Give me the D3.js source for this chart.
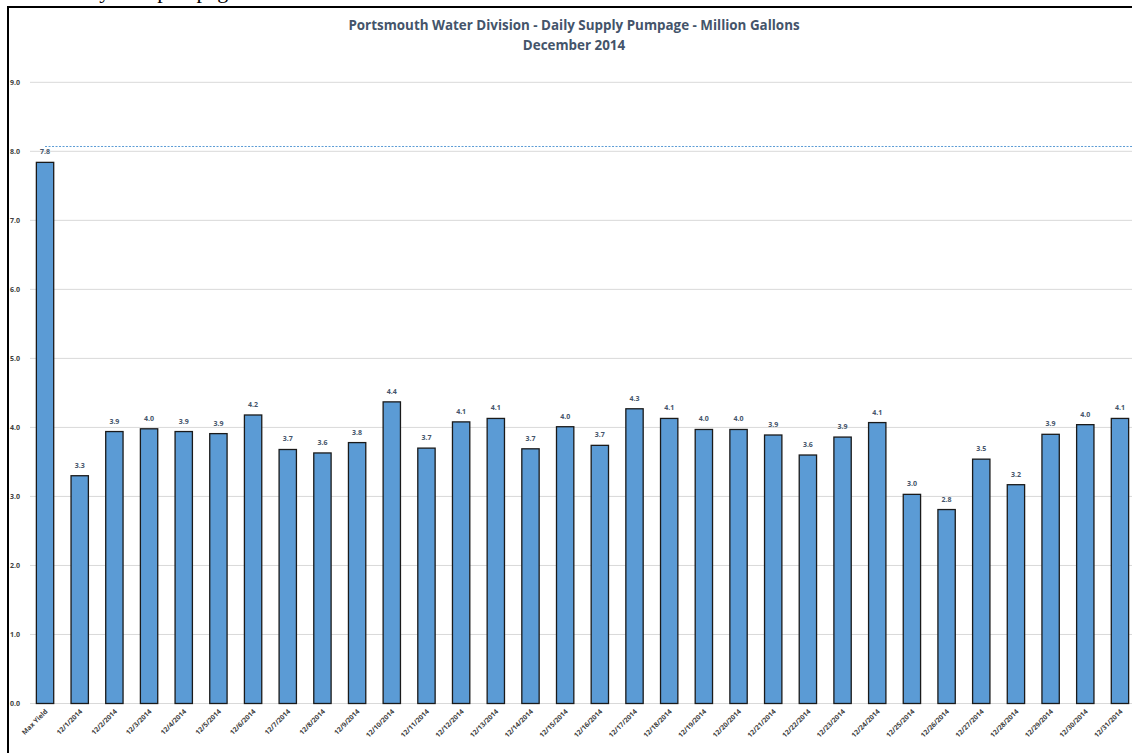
<!DOCTYPE html>
<html>
<head>
<meta charset="utf-8">
<script src="https://cdn.jsdelivr.net/npm/d3@7"></script>
<style>
  body { margin: 0; background: #fff; }
  svg { display: block; }
</style>
</head>
<body>
<div id="chart"></div>
<script>
const categories = ["Max Yield",
    "12/1/2014", "12/2/2014", "12/3/2014", "12/4/2014", "12/5/2014", "12/6/2014", "12/7/2014",
    "12/8/2014", "12/9/2014", "12/10/2014", "12/11/2014", "12/12/2014", "12/13/2014", "12/14/2014",
    "12/15/2014", "12/16/2014", "12/17/2014", "12/18/2014", "12/19/2014", "12/20/2014", "12/21/2014",
    "12/22/2014", "12/23/2014", "12/24/2014", "12/25/2014", "12/26/2014", "12/27/2014", "12/28/2014",
    "12/29/2014", "12/30/2014", "12/31/2014"];
const pumpage = [7.84,
    3.30, 3.94, 3.98, 3.94, 3.91, 4.18, 3.68,
    3.63, 3.78, 4.37, 3.70, 4.08, 4.13, 3.69,
    4.01, 3.74, 4.27, 4.13, 3.97, 3.97, 3.89,
    3.60, 3.86, 4.07, 3.03, 2.81, 3.54, 3.17,
    3.90, 4.04, 4.13];
const yTicks = [0, 1, 2, 3, 4, 5, 6, 7, 8, 9];
const limitLine = 8.07;

const width = 1132;
const height = 753;

const svg = d3.select('#chart')
    .append('svg')
    .attr('width', width)
    .attr('height', height);

// caption of the page, cut off above the frame (as in the scan)
svg.append('text')
    .attr('x', 238)
    .attr('y', -2)
    .attr('text-anchor', 'end')
    .attr('font-family', 'Liberation Serif, serif')
    .attr('font-size', 22)
    .attr('fill', '#000')
    .text('Portsmouth water system pumpage');

// frame
svg.append('line').attr('x1', 7).attr('x2', width).attr('y1', 7).attr('y2', 7)
    .attr('stroke', '#000').attr('stroke-width', 2);
svg.append('line').attr('x1', 8).attr('x2', 8).attr('y1', 6).attr('y2', height)
    .attr('stroke', '#000').attr('stroke-width', 2);

const x = d3.scaleBand()
    .domain(categories)
    .range([27.7, 1137.3])
    .paddingInner(0.5)
    .paddingOuter(0.25);

const y = d3.scaleLinear()
    .domain([0, 9])
    .range([703.5, 82.3]);

// gridlines
svg.append('g')
    .selectAll('line')
    .data(yTicks)
    .join('line')
    .attr('x1', 30)
    .attr('x2', width)
    .attr('y1', d => y(d))
    .attr('y2', d => y(d))
    .attr('stroke', '#d9d9d9')
    .attr('stroke-width', 1);

// y labels
svg.append('g')
    .selectAll('text')
    .data(yTicks)
    .join('text')
    .attr('x', 20)
    .attr('y', d => y(d) + 2.5)
    .attr('text-anchor', 'end')
    .attr('font-family', 'Open Sans, sans-serif')
    .attr('font-weight', 'bold')
    .attr('font-size', 7)
    .attr('fill', '#404040')
    .text(d => d.toFixed(1));

// dashed max line
svg.append('line')
    .attr('x1', x(categories[0]) + x.bandwidth() / 2)
    .attr('x2', width)
    .attr('y1', y(limitLine))
    .attr('y2', y(limitLine))
    .attr('stroke', '#5B9BD5')
    .attr('stroke-width', 1)
    .attr('stroke-dasharray', '2,1.5');

const data = categories.map((c, i) => ({key: c, value: pumpage[i]}));

svg.append('g')
    .selectAll('rect')
    .data(data)
    .join('rect')
    .attr('x', d => x(d.key))
    .attr('y', d => y(d.value))
    .attr('width', x.bandwidth())
    .attr('height', d => y(0) - y(d.value))
    .attr('fill', '#5B9BD5')
    .attr('stroke', '#1a1a1a')
    .attr('stroke-width', 1.3);

svg.append('g')
    .selectAll('text')
    .data(data)
    .join('text')
    .attr('x', d => x(d.key) + x.bandwidth() / 2)
    .attr('y', d => y(d.value) - 8)
    .attr('text-anchor', 'middle')
    .attr('font-family', 'Open Sans, sans-serif')
    .attr('font-weight', 'bold')
    .attr('font-size', 7)
    .attr('fill', '#44546A')
    .text(d => d.value.toFixed(1));

// x labels
svg.append('g')
    .selectAll('text')
    .data(categories)
    .join('text')
    .attr('transform', d => `translate(${x(d) + x.bandwidth() / 2 + 3},${712}) rotate(-45)`)
    .attr('text-anchor', 'end')
    .attr('font-family', 'Open Sans, sans-serif')
    .attr('font-weight', 'bold')
    .attr('font-size', 6.8)
    .attr('fill', '#404040')
    .text(d => d);

// title
const title = svg.append('text')
    .attr('x', 574)
    .attr('text-anchor', 'middle')
    .attr('font-family', 'Open Sans, sans-serif')
    .attr('font-weight', 'bold')
    .attr('font-size', 13.4)
    .attr('fill', '#44546A');
title.append('tspan').attr('x', 574).attr('y', 30)
    .text('Portsmouth Water Division - Daily Supply Pumpage - Million Gallons');
title.append('tspan').attr('x', 574).attr('y', 50)
    .text('December 2014');
</script>
</body>
</html>
